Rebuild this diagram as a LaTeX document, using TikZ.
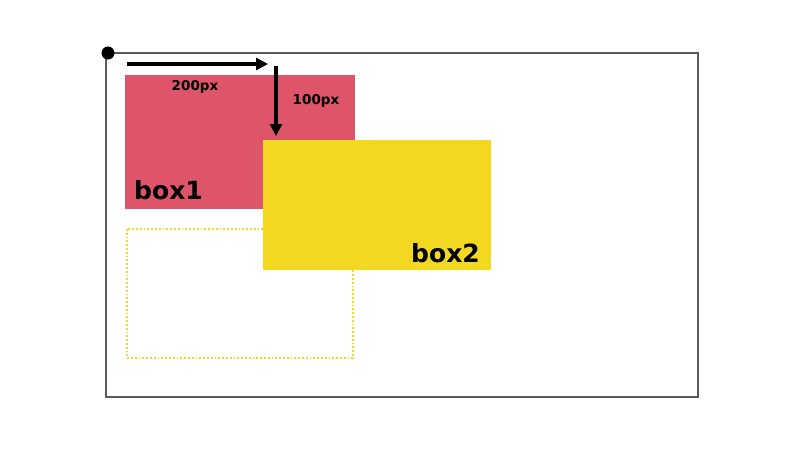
\documentclass[tikz,border=0pt]{standalone}
\usepackage{fontspec}
\setmainfont{DejaVu Sans}
\usetikzlibrary{arrows.meta}
\definecolor{frame}{HTML}{5A5A5A}
\definecolor{boxred}{HTML}{DE5468}
\definecolor{boxyellow}{HTML}{F2D820}
\tikzset{
  lbl/.style={font=\bfseries\fontsize{13.5}{15}\selectfont, text=black, inner sep=0pt},
  biglbl/.style={font=\bfseries\fontsize{25}{28}\selectfont, text=black, inner sep=0pt},
  arr/.style={line width=3.6pt, -{Triangle[length=12pt,width=12pt]}},
}
\begin{document}
\begin{tikzpicture}[x=1pt,y=-1pt]
\useasboundingbox (0,0) rectangle (800,450);
\fill[white] (0,0) rectangle (800,450);
% outer frame
\draw[frame, line width=2.2pt] (106,53) rectangle (698,397);
\fill[black] (108,53) circle (6.5);
% dotted original position
\draw[boxyellow, line width=1.8pt, dotted] (127,229) rectangle (353,358);
% box1
\fill[boxred] (125,75) rectangle (355,209);
\node[biglbl, anchor=base west] (b1) at (134,199) {box1};
% box2
\fill[boxyellow] (263,140) rectangle (491,270);
\node[biglbl, anchor=base east] (b2) at (480,262) {box2};
% arrows
\coordinate (h1) at (127,64);
\coordinate (h2) at (268,64);
\coordinate (v1) at (276,66);
\coordinate (v2) at (276,136);
\draw[arr] (h1) -- (h2);
\draw[arr] (v1) -- (v2);
\node[lbl] (t200) at (195,87) {200px};
\node[lbl] (t100) at (316,101) {100px};
\end{tikzpicture}
\end{document}
